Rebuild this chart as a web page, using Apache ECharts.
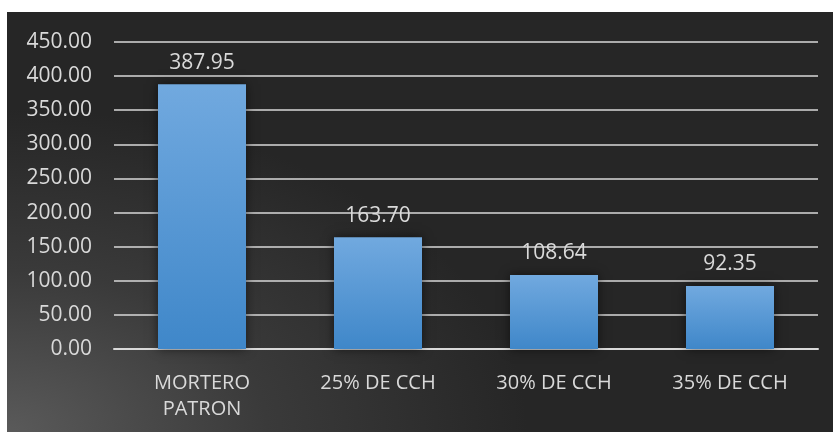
<!DOCTYPE html>
<html>
<head>
<meta charset="utf-8">
<script src="https://cdn.jsdelivr.net/npm/echarts@6/dist/echarts.min.js"></script>
<style>
html,body{margin:0;padding:0;background:#fff;}
#c{position:absolute;left:7px;top:12px;width:826px;height:420px;
background:radial-gradient(ellipse 90% 110% at 0% 100%, #5a5a5a 0%, #3a3a3a 35%, #262626 70%, #262626 100%);}
</style>
</head>
<body>
<div id="c"></div>
<script>
const categories = ["MORTERO\nPATRON", "25% DE CCH", "30% DE CCH", "35% DE CCH"];
const values = [387.95, 163.70, 108.64, 92.35];
const yMin = 0, yMax = 450, yStep = 50;

const chart = echarts.init(document.getElementById('c'), null, {renderer:'canvas'});
const font = '"Open Sans", "Liberation Sans", sans-serif';
chart.setOption({
  animation:false,
  grid:{left:107, right:15, top:30, bottom:83, containLabel:false},
  xAxis:{
    type:'category', data:categories,
    axisLine:{show:true, lineStyle:{color:'#d9d9d9', width:2}},
    axisTick:{show:false},
    axisLabel:{color:'#d9d9d9', fontSize:20, fontFamily:font, margin:21, lineHeight:26, interval:0}
  },
  yAxis:{
    type:'value', min:yMin, max:yMax, interval:yStep,
    axisLine:{show:false}, axisTick:{show:false},
    axisLabel:{color:'#d9d9d9', fontSize:21, fontFamily:font, margin:22, formatter:v=>v.toFixed(2)},
    splitLine:{lineStyle:{color:'#d9d9d9', width:1.5}}
  },
  series:[{
    type:'bar', data:values, barWidth:'50%',
    itemStyle:{
      color:new echarts.graphic.LinearGradient(0,0,0,1,[{offset:0,color:'#71a9df'},{offset:1,color:'#3f87c9'}]),
      shadowBlur:10, shadowColor:'rgba(0,0,0,0.55)', shadowOffsetX:0, shadowOffsetY:0
    },
    label:{show:true, position:'top', distance:11, color:'#d9d9d9', fontSize:21, fontFamily:font, formatter:p=>p.value.toFixed(2)}
  }]
});
</script>
</body>
</html>
